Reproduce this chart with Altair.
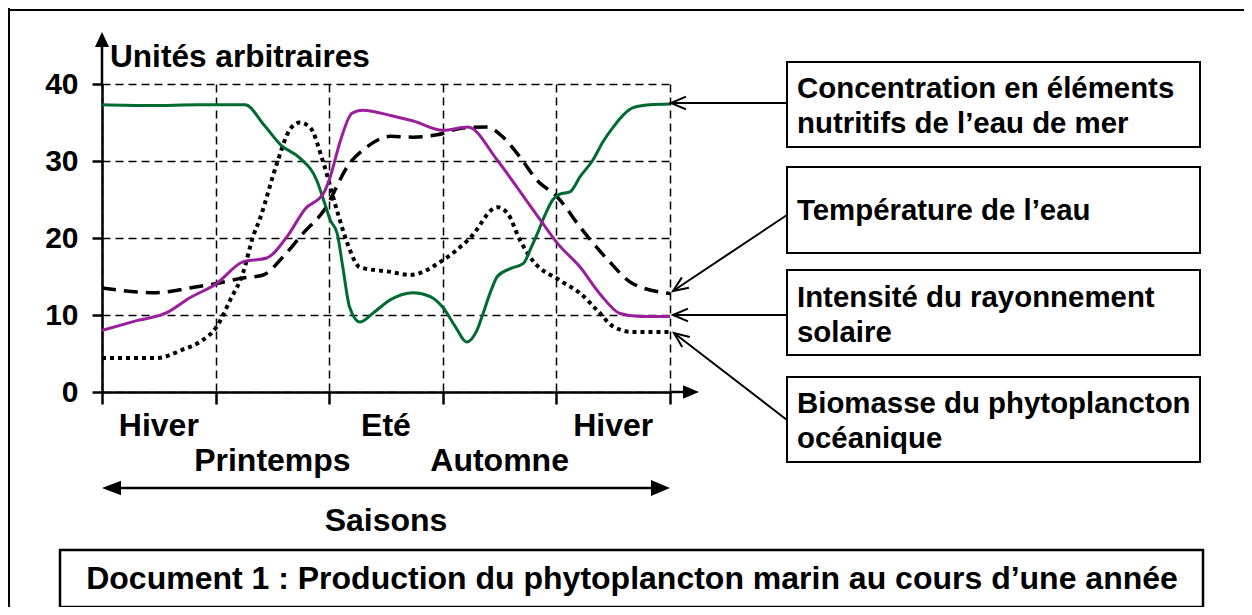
import altair as alt
import pandas as pd

FONT = "Liberation Sans"
GREEN = "#006b30"
PURPLE = "#99209a"

# ---- data (x in season units 0..5, y in arbitrary units) ----
nutr_x = [0, 0.42, 0.86, 1.26, 1.43, 1.58, 1.74, 1.89, 1.96, 2.01, 2.07, 2.12, 2.18, 2.27,
          2.39, 2.54, 2.74, 2.89, 3.00, 3.11, 3.21, 3.30, 3.35, 3.42, 3.48, 3.59, 3.71,
          3.77, 3.83, 3.90, 3.97, 4.03, 4.12, 4.21, 4.32, 4.41, 4.50, 4.59, 4.67, 4.82, 5.00]
nutr_y = [37.3, 37.2, 37.3, 37.3, 34.6, 32.0, 30.4, 27.5, 24.5, 22.3, 20.6, 16.2, 11.0, 9.1,
          10.3, 12.0, 12.9, 12.4, 11.0, 8.5, 6.5, 8.0, 10.0, 13.0, 15.0, 16.0, 16.7,
          18.5, 20.5, 23.0, 25.0, 25.7, 26.0, 28.0, 30.1, 32.5, 34.4, 36.0, 36.9, 37.3, 37.4]

sun_x = [0, 0.29, 0.57, 0.77, 1.01, 1.24, 1.45, 1.63, 1.79, 1.95, 2.01, 2.10, 2.20, 2.29,
         2.40, 2.54, 2.74, 3.00, 3.22, 3.48, 3.71, 3.88, 4.01, 4.21, 4.38, 4.56, 4.74, 5.00]
sun_y = [8.0, 9.2, 10.3, 12.2, 14.1, 16.9, 17.4, 20.2, 23.8, 25.8, 28.0, 32.7, 36.2, 36.6,
         36.4, 35.9, 35.2, 34.0, 34.4, 30.1, 25.4, 21.9, 19.3, 16.2, 12.8, 10.2, 9.8, 9.8]

temp_x = [0, 0.48, 0.77, 1.01, 1.24, 1.42, 1.59, 1.77, 1.95, 2.18, 2.33, 2.54, 2.74, 2.95,
          3.18, 3.39, 3.53, 3.68, 3.83, 4.01, 4.21, 4.45, 4.67, 5.00]
temp_y = [13.5, 12.9, 13.5, 14.1, 14.8, 15.2, 17.5, 20.6, 23.5, 29.7, 31.8, 33.2, 33.1, 33.4,
          34.3, 34.4, 33.1, 30.5, 27.5, 25.3, 21.4, 17.2, 14.1, 12.8]

bio_x = [0, 0.48, 0.71, 0.86, 1.01, 1.13, 1.24, 1.33, 1.39, 1.54, 1.65, 1.74, 1.83, 1.95,
         2.07, 2.16, 2.27, 2.54, 2.71, 3.00, 3.24, 3.48, 3.57, 3.68, 3.79, 4.03, 4.21,
         4.36, 4.50, 4.67, 5.00]
bio_y = [4.4, 4.4, 5.5, 6.5, 8.5, 12.0, 15.4, 20.2, 22.5, 29.7, 34.0, 35.0, 34.4, 29.7,
         23.5, 19.3, 16.2, 15.6, 15.2, 17.1, 20.0, 24.0, 23.2, 19.7, 17.1, 14.5, 12.8,
         10.6, 8.5, 7.8, 7.8]

season_names = ["Hiver", "Printemps", "Eté", "Automne", "Hiver"]
season_pos = [0.5, 1.5, 2.5, 3.5, 4.5]
season_row = [0, 1, 0, 1, 0]
x_ticks = [0, 1, 2, 3, 4, 5]
y_ticks = [0, 10, 20, 30, 40]

y_title = "Unités arbitraires"
x_title = "Saisons"
doc_title = "Document 1 : Production du phytoplancton marin au cours d’une année"
legend_1 = ["Concentration en éléments", "nutritifs de l’eau de mer"]
legend_2 = ["Température de l’eau"]
legend_3 = ["Intensité du rayonnement", "solaire"]
legend_4 = ["Biomasse du phytoplancton", "océanique"]

# ---- scales & axes ----
W, H = 568, 308
XS = alt.Scale(domain=[0, 5], nice=False, zero=False)
YS = alt.Scale(domain=[0, 40], nice=False)
XAX = alt.Axis(values=x_ticks, labels=False, title="", tickSize=12, grid=True)
YAX = alt.Axis(values=y_ticks, title="", tickSize=10, labelPadding=14, grid=True)


def curve(xv, yv, **style):
    df = pd.DataFrame({"x": xv, "y": yv})
    return alt.Chart(df).mark_line(interpolate="monotone", **style).encode(
        x=alt.X("x:Q", scale=XS, axis=XAX),
        y=alt.Y("y:Q", scale=YS, axis=YAX),
    )


one = pd.DataFrame({"k": [0]})


def txt(s, x, y, align="left", size=29.4):
    return alt.Chart(one).mark_text(
        text=s, align=align, baseline="alphabetic", font=FONT, fontSize=size,
        fontWeight="bold", color="black"
    ).encode(x=alt.value(x), y=alt.value(y))


def seg(x1, y1, x2, y2, w=2.0):
    return alt.Chart(one).mark_rule(color="black", strokeWidth=w).encode(
        x=alt.value(x1), y=alt.value(y1), x2=alt.value(x2), y2=alt.value(y2))


def head(path, x, y, size, filled=True, angle=0):
    kw = dict(shape=path, size=size, opacity=1)
    if filled:
        kw.update(filled=True, fill="black", strokeWidth=0)
    else:
        kw.update(filled=False, stroke="black", strokeWidth=2)
    if angle:
        kw.update(angle=angle)
    return alt.Chart(one).mark_point(**kw).encode(x=alt.value(x), y=alt.value(y))


def box(x1, y1, x2, y2, w=2.0):
    return alt.Chart(one).mark_rect(fill="white", stroke="black", strokeWidth=w).encode(
        x=alt.value(x1), x2=alt.value(x2), y=alt.value(y1), y2=alt.value(y2))


ARROW_R = "M 0 0 L -1 -0.42 L -1 0.42 Z"
ARROW_L = "M 0 0 L 1 -0.38 L 1 0.38 Z"
ARROW_U = "M 0 0 L -0.47 1 L 0.47 1 Z"
CHEV = "M 1 -0.42 L 0 0 L 1 0.42"

layers = [
    curve(temp_x, temp_y, color="black", strokeWidth=3.5, strokeDash=[14, 8]),
    curve(bio_x, bio_y, color="black", strokeWidth=4, strokeDash=[4, 4], strokeCap="butt"),
    curve(nutr_x, nutr_y, color=GREEN, strokeWidth=3),
    curve(sun_x, sun_y, color=PURPLE, strokeWidth=3),
]

# season labels
sdf = pd.DataFrame({"name": season_names, "pos": season_pos, "row": season_row})
for row, ypx in [(0, 352), (1, 387)]:
    layers.append(
        alt.Chart(sdf).transform_filter(alt.datum.row == row).mark_text(
            align="center", baseline="alphabetic", font=FONT, fontSize=32,
            fontWeight="bold", color="black"
        ).encode(x=alt.X("pos:Q", scale=XS, axis=XAX), y=alt.value(ypx), text="name:N")
    )

# axis extensions with arrowheads
layers += [
    seg(0, -40, 0, 0, 2.5),
    head(ARROW_U, 0, -52, 900),
    seg(568, 308, 585, 308, 2.5),
    head(ARROW_R, 597, 308, 1024),
    # season double arrow
    seg(12, 404, 556, 404, 2.5),
    head(ARROW_L, 0, 404, 1444),
    head(ARROW_R, 568, 404, 1444),
    txt(y_title, 8, -17, size=31.6),
    txt(x_title, 284, 447, align="center", size=32),
    # document title box
    box(-42, 466, 1101, 523, 2.5),
    txt(doc_title, 530, 505, align="center", size=32),
    # legend boxes
    box(685, -22, 1098, 63),
    box(685, 83, 1098, 169),
    box(685, 186, 1098, 271),
    box(685, 293, 1098, 378),
    txt(legend_1[0], 695, 14), txt(legend_1[1], 695, 49),
    txt(legend_2[0], 695, 136),
    txt(legend_3[0], 695, 223), txt(legend_3[1], 695, 258),
    txt(legend_4[0], 695, 329), txt(legend_4[1], 695, 364),
    # legend arrows
    seg(685, 19, 569, 19), head(CHEV, 569, 19, 900, filled=False),
    seg(685, 131, 571, 207), head(CHEV, 571, 207, 900, filled=False, angle=326),
    seg(685, 231, 571, 231), head(CHEV, 571, 231, 900, filled=False),
    seg(685, 336, 572, 249), head(CHEV, 572, 249, 900, filled=False, angle=37),
    # outer frame (top & left)
    seg(-94, -74, 1142, -74, 2),
    seg(-93, -76, -93, 523, 2),
]

chart = alt.layer(*layers).properties(
    width=W, height=H,
    autosize=alt.AutoSizeParams(type="none"),
    padding={"left": 94, "top": 76, "right": 574, "bottom": 215},
    background="white",
).configure_view(strokeWidth=0).configure_axis(
    domainColor="black", domainWidth=2.5, tickColor="black", tickWidth=2.5,
    gridColor="black", gridDash=[8, 5], gridWidth=1.5, gridOpacity=1,
    labelFont=FONT, labelFontSize=30, labelFontWeight="bold", labelColor="black",
)

chart.save("out.html", embed_options={"renderer": "svg", "actions": False})
